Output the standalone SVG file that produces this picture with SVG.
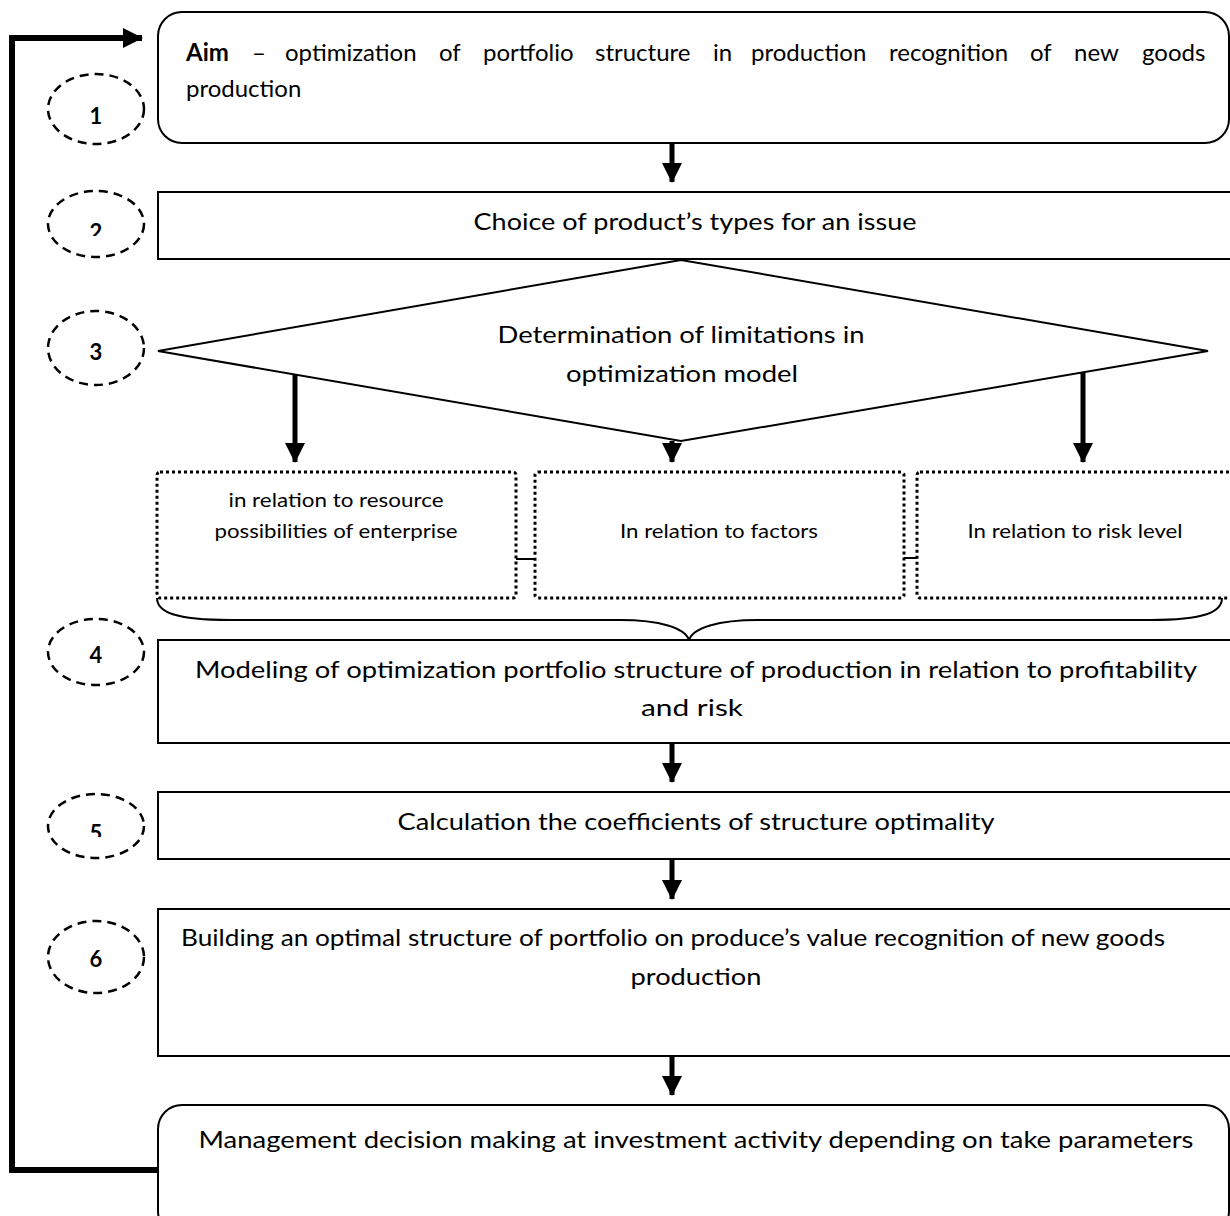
<svg xmlns="http://www.w3.org/2000/svg" width="1230" height="1216" viewBox="0 0 1230 1216">
<style>
  .box { fill: #fff; stroke: #000; stroke-width: 2; }
  .dot { fill: #fff; stroke: #000; stroke-width: 3; stroke-dasharray: 3 3; }
  .circ { fill: none; stroke: #000; stroke-width: 2.5; stroke-dasharray: 9 6; }
  .t { font-family: Lato, "Open Sans", sans-serif; font-size: 24px; fill: #000; }
  .s { font-family: Lato, "Open Sans", sans-serif; font-size: 19px; fill: #000; }
  .n { font-family: Lato, "Open Sans", sans-serif; font-size: 22px; font-weight: bold; fill: #000; text-anchor: middle; }
  .arr { stroke: #000; stroke-width: 5; fill: none; }
  .loop { stroke: #000; stroke-width: 6; fill: none; }
  .thin { stroke: #000; stroke-width: 2; fill: none; }
</style>
<defs>
  <marker id="ah" markerUnits="userSpaceOnUse" markerWidth="20" markerHeight="20" refX="19" refY="10" orient="auto" viewBox="0 0 20 20">
    <path d="M0,0 L20,10 L0,20 z" fill="#000"/>
  </marker>
  <clipPath id="clip2"><rect x="40" y="190" width="120" height="46"/></clipPath>
  <clipPath id="clip5"><rect x="40" y="790" width="120" height="47"/></clipPath>
</defs>

<g id="connectors">
  <polyline class="loop" points="158,1170 12,1170 12,38 142,38" marker-end="url(#ah)"/>
  <line class="arr" x1="672" y1="143" x2="672" y2="182" marker-end="url(#ah)"/>
  <line class="arr" x1="295" y1="372" x2="295" y2="462" marker-end="url(#ah)"/>
  <line class="arr" x1="672" y1="441" x2="672" y2="462" marker-end="url(#ah)"/>
  <line class="arr" x1="1083" y1="370" x2="1083" y2="462" marker-end="url(#ah)"/>
  <line class="arr" x1="672" y1="743" x2="672" y2="782" marker-end="url(#ah)"/>
  <line class="arr" x1="672" y1="859" x2="672" y2="899" marker-end="url(#ah)"/>
  <line class="arr" x1="672" y1="1056" x2="672" y2="1095" marker-end="url(#ah)"/>
  <line class="thin" x1="516" y1="559" x2="535" y2="559"/>
  <line class="thin" x1="904" y1="558" x2="917" y2="558"/>
  <path class="thin" d="M157,598 C157,612 175,620 230,620 L620,620 C660,620 685,628 689,640 C693,628 718,620 758,620 L1150,620 C1205,620 1222,612 1222,598"/>
</g>

<g id="c1"><ellipse class="circ" cx="96" cy="109" rx="48" ry="35"/><text class="n" x="96" y="124">1</text></g>
<g id="c2"><ellipse class="circ" cx="96" cy="224" rx="48" ry="33"/><text class="n" x="96" y="240" clip-path="url(#clip2)">2</text></g>
<g id="c3"><ellipse class="circ" cx="96" cy="348" rx="48" ry="37"/><text class="n" x="96" y="360">3</text></g>
<g id="c4"><ellipse class="circ" cx="96" cy="652" rx="48" ry="33"/><text class="n" x="96" y="663">4</text></g>
<g id="c5"><ellipse class="circ" cx="96" cy="826" rx="48" ry="32"/><text class="n" x="96" y="841" clip-path="url(#clip5)">5</text></g>
<g id="c6"><ellipse class="circ" cx="96" cy="957" rx="48" ry="36"/><text class="n" x="96" y="967">6</text></g>

<g id="n1">
  <rect class="box" x="158" y="12" width="1071" height="131" rx="24"/>
  <text class="t" y="61"><tspan x="186" font-weight="bold">Aim</tspan><tspan x="252">–</tspan><tspan x="285">optimization</tspan><tspan x="439">of</tspan><tspan x="483">portfolio</tspan><tspan x="595">structure</tspan><tspan x="713">in</tspan><tspan x="751">production</tspan><tspan x="889">recognition</tspan><tspan x="1030">of</tspan><tspan x="1074">new</tspan><tspan x="1142">goods</tspan></text>
  <text class="t" x="186" y="97">production</text>
</g>
<g id="n2">
  <rect class="box" x="158" y="192" width="1080" height="67"/>
  <text class="t" x="695" y="230" text-anchor="middle" textLength="443" lengthAdjust="spacingAndGlyphs">Choice of product’s types for an issue</text>
</g>
<g id="n3">
  <polygon class="box" points="158,351 681,260 1208,351 681,441"/>
  <text class="t" x="681" y="343" text-anchor="middle" textLength="367" lengthAdjust="spacingAndGlyphs">Determination of limitations in</text>
  <text class="t" x="682" y="382" text-anchor="middle" textLength="232" lengthAdjust="spacingAndGlyphs">optimization model</text>
</g>
<g id="n3a">
  <rect class="dot" x="157" y="472" width="359" height="126" rx="3"/>
  <text class="s" x="336" y="507" text-anchor="middle" textLength="215" lengthAdjust="spacingAndGlyphs">in relation to resource</text>
  <text class="s" x="336" y="538" text-anchor="middle" textLength="243" lengthAdjust="spacingAndGlyphs">possibilities of enterprise</text>
</g>
<g id="n3b">
  <rect class="dot" x="535" y="472" width="369" height="126" rx="3"/>
  <text class="s" x="719" y="538" text-anchor="middle" textLength="198" lengthAdjust="spacingAndGlyphs">In relation to factors</text>
</g>
<g id="n3c">
  <rect class="dot" x="917" y="472" width="320" height="126" rx="3"/>
  <text class="s" x="1075" y="538" text-anchor="middle" textLength="215" lengthAdjust="spacingAndGlyphs">In relation to risk level</text>
</g>
<g id="n4">
  <rect class="box" x="158" y="640" width="1080" height="103"/>
  <text class="t" x="696" y="678" text-anchor="middle" textLength="1002" lengthAdjust="spacingAndGlyphs">Modeling of optimization portfolio structure of production in relation to profitability</text>
  <text class="t" x="692" y="716" text-anchor="middle" textLength="102" lengthAdjust="spacingAndGlyphs">and risk</text>
</g>
<g id="n5">
  <rect class="box" x="158" y="792" width="1080" height="67"/>
  <text class="t" x="696" y="830" text-anchor="middle" textLength="597" lengthAdjust="spacingAndGlyphs">Calculation the coefficients of structure optimality</text>
</g>
<g id="n6">
  <rect class="box" x="158" y="909" width="1080" height="147"/>
  <text class="t" x="673" y="946" text-anchor="middle" textLength="984" lengthAdjust="spacingAndGlyphs">Building an optimal structure of portfolio on produce’s value recognition of new goods</text>
  <text class="t" x="696" y="985" text-anchor="middle" textLength="131" lengthAdjust="spacingAndGlyphs">production</text>
</g>
<g id="n7">
  <rect class="box" x="158" y="1105" width="1071" height="130" rx="24"/>
  <text class="t" x="696" y="1148" text-anchor="middle" textLength="995" lengthAdjust="spacingAndGlyphs">Management decision making at investment activity depending on take parameters</text>
</g>
</svg>
